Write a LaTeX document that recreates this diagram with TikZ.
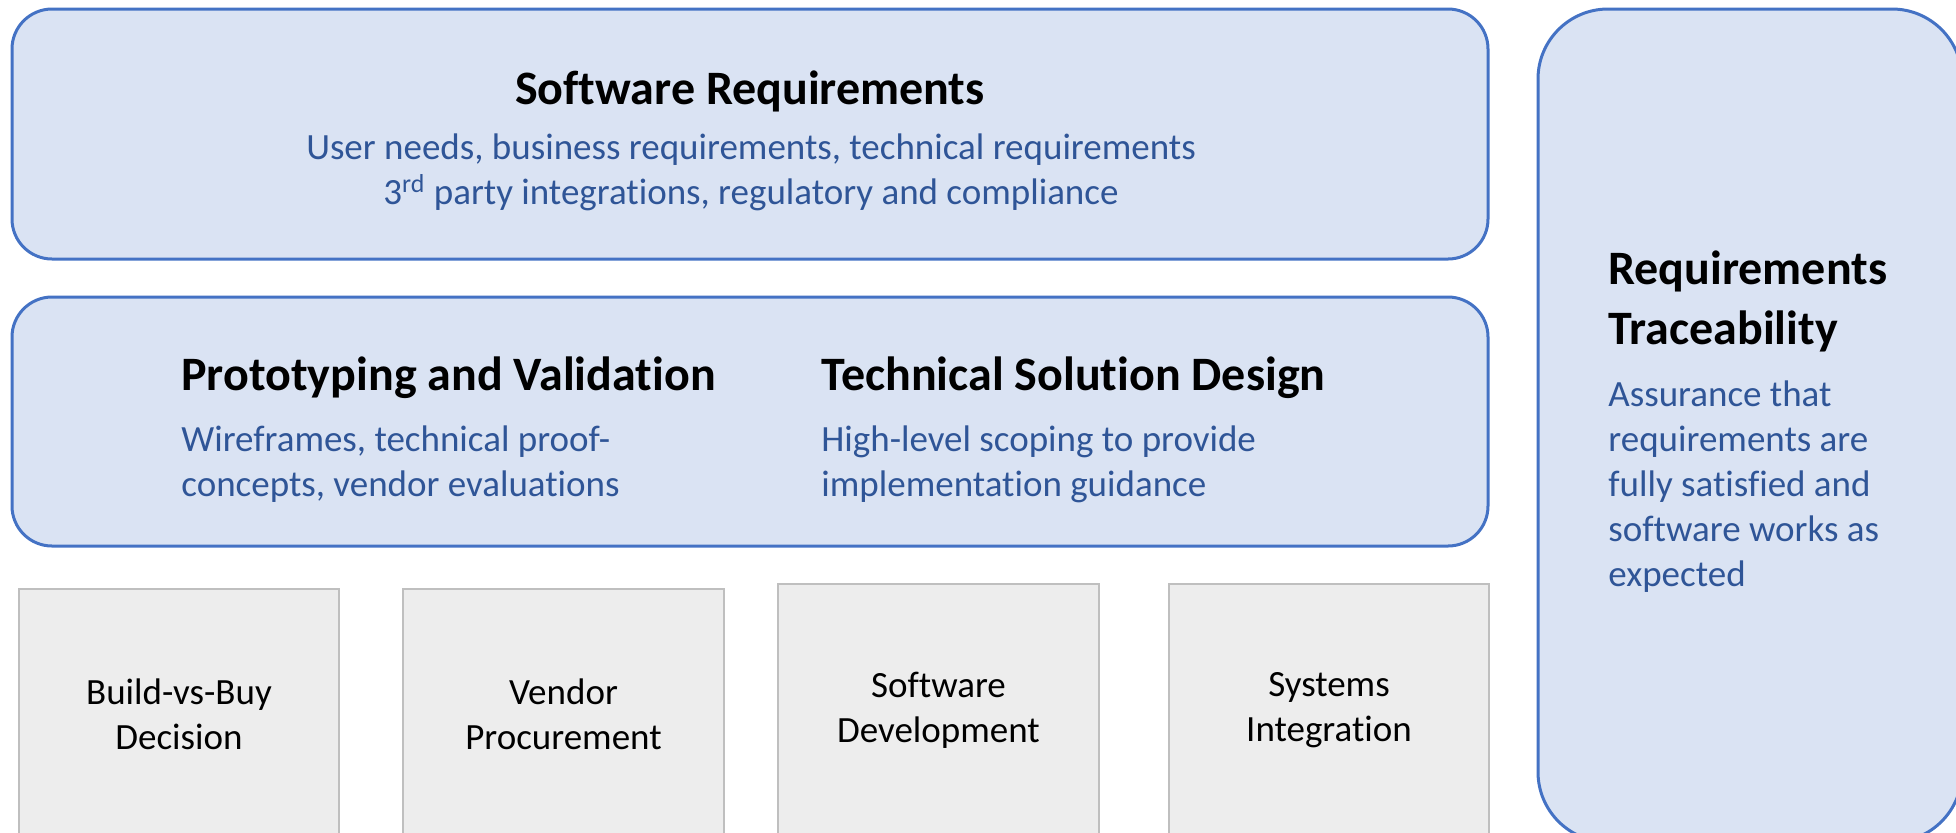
\documentclass[tikz,border=0pt]{standalone}
\usepackage{fontspec}
\setmainfont{Carlito}[Ligatures=NoCommon]
\usepackage{tikz}
\usetikzlibrary{positioning}
\definecolor{boxblue}{HTML}{DAE3F3}
\definecolor{lineblue}{HTML}{4472C4}
\definecolor{textblue}{HTML}{2F5597}
\definecolor{boxgrey}{HTML}{EDEDED}
\definecolor{linegrey}{HTML}{BFBFBF}

\begin{document}
\begin{tikzpicture}[x=0.5pt, y=-0.5pt,
    bluebox/.style={draw=lineblue, fill=boxblue, line width=1.5pt,
                    rounded corners=20pt, inner sep=0pt},
    greybox/.style={draw=linegrey, fill=boxgrey, line width=0.75pt,
                    inner sep=0pt, minimum height=133pt},
    head/.style={font=\fontsize{24}{30}\selectfont\bfseries, inner sep=0pt},
    body/.style={font=\fontsize{18.5}{22.5}\selectfont, text=textblue,
                 inner sep=0pt, align=left},
    steplabel/.style={font=\fontsize{18.5}{22.5}\selectfont, inner sep=0pt,
                      align=center}]
\useasboundingbox (0,0) rectangle (1956,832);
\clip (0,0) rectangle (1956,832);
%
% blue blocks
\node[bluebox, minimum width=738pt, minimum height=125pt] (req) at (750,134) {};
\node[bluebox, minimum width=738pt, minimum height=124.5pt] (design) at (750,421.5) {};
\node[bluebox, rounded corners=35pt, minimum width=212pt, minimum height=416.5pt]
     (trace) at (1750,425.5) {};
%
% grey steps
\node[greybox, minimum width=160pt, minimum height=130.5pt] (build) at (179,719.5) {};
\node[greybox, minimum width=160.5pt, minimum height=130.5pt] (vendor) at (563.5,719.5) {};
\node[greybox, minimum width=160.5pt] (dev) at (938.5,717) {};
\node[greybox, minimum width=160pt] (integ) at (1329,717) {};
%
% texts
\node[head] (reqhead) at (750,91) {Software Requirements};
\node[body, align=center] (reqbody) at (751,172.5)
     {User needs, business requirements, technical requirements\\
      3\textsuperscript{rd} party integrations, regulatory and compliance};
%
\node[head, anchor=west] (protohead) at (181,378) {Prototyping and Validation};
\node[body, anchor=west] (protobody) at (181,464)
     {Wireframes, technical proof-\\concepts, vendor evaluations};
\node[head, anchor=west] (techhead) at (821,378) {Technical Solution Design};
\node[body, anchor=west] (techbody) at (821,464)
     {High-level scoping to provide\\implementation guidance};
%
\node[head, anchor=west, align=left] (tracehead) at (1608,301)
     {Requirements\\Traceability};
\node[body, anchor=west] (tracebody) at (1608,487)
     {Assurance that\\requirements are\\fully satisfied and\\software works as\\expected};
%
\node[steplabel] (buildtext) at (build.center |- 0,714.5) {Build-vs-Buy\\Decision};
\node[steplabel] (vendortext) at (vendor.center |- 0,714.5) {Vendor\\Procurement};
\node[steplabel] (devtext) at (dev.center |- 0,710) {Software\\Development};
\node[steplabel] (integtext) at (integ.center |- 0,710) {Systems\\Integration};
%
\end{tikzpicture}
\end{document}
